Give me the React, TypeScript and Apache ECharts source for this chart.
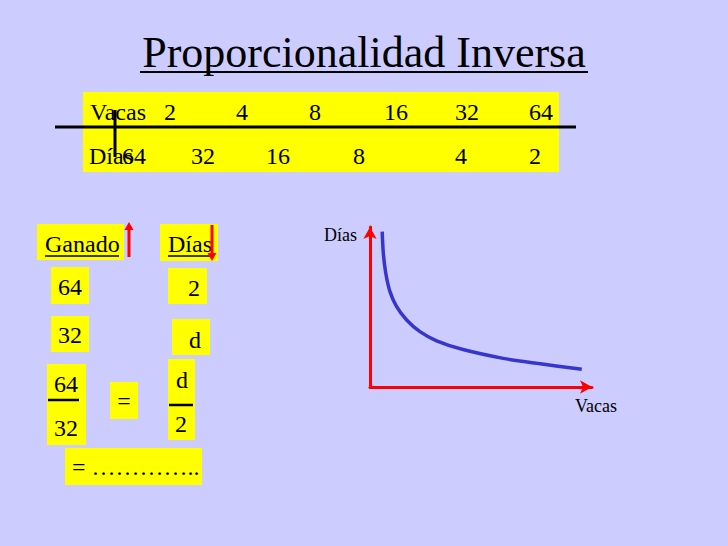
import React, { useEffect, useRef } from "react";
import * as echarts from "echarts";

// ---- data ----
const titleText = "Proporcionalidad Inversa";
const rowLabels = ["Vacas", "Días"];
const vacas = [2, 4, 8, 16, 32, 64];
const dias = [64, 32, 16, 8, 4, 2];
const headers = ["Ganado", "Días"];
const ganadoVals = ["64", "32"];
const diasVals = ["2", "d"];
const resultText = "= …………..";
const axisNames = ["Vacas", "Días"];
// illustrative inverse-proportion curve (axis units 0..100)
const curveX = [5.5, 6.0, 7.1, 9.0, 12.0, 16.5, 22.5, 30.0, 41.9, 60.0, 75.1, 95.4];
const curveY = [97.1, 83.6, 71.1, 59.6, 50.2, 41.9, 34.6, 28.9, 23.4, 17.9, 14.8, 11.1];

// ---- layout ----
const row1X = [164, 236, 309, 384, 455, 529];
const row2X = [122, 191, 266, 353, 455, 529];
const SERIF = "'Liberation Serif', 'Times New Roman', serif";
const YELLOW = "#ffff00";
const RED = "#ff0000";

function txt(x: number, y: number, s: string, fs: number, align = "left") {
  return {
    type: "text",
    x,
    y,
    style: {
      text: s,
      fontSize: fs,
      fontFamily: SERIF,
      fill: "#000",
      align,
      verticalAlign: "middle",
      textAlign: align,
      textVerticalAlign: "middle",
    },
  };
}
function rect(x: number, y: number, w: number, h: number, fill = YELLOW) {
  return { type: "rect", shape: { x, y, width: w, height: h }, style: { fill } };
}
function ln(x1: number, y1: number, x2: number, y2: number, stroke = "#000", w = 2) {
  return { type: "line", shape: { x1, y1, x2, y2 }, style: { stroke, lineWidth: w } };
}
function arrowUp(x: number, yBottom: number, yTip: number) {
  return [
    ln(x, yBottom, x, yTip + 7, RED, 3),
    { type: "polygon", shape: { points: [[x - 4.5, yTip + 8], [x + 4.5, yTip + 8], [x, yTip]] }, style: { fill: RED } },
  ];
}
function arrowDown(x: number, yTop: number, yTip: number) {
  return [
    ln(x, yTop, x, yTip - 7, RED, 3),
    { type: "polygon", shape: { points: [[x - 4.5, yTip - 8], [x + 4.5, yTip - 8], [x, yTip]] }, style: { fill: RED } },
  ];
}

export default function App() {
  const ref = useRef<HTMLDivElement>(null);
  useEffect(() => {
    if (!ref.current) return;
    const chart = echarts.init(ref.current, undefined, { renderer: "svg" });

    const graphics: any[] = [
      // title
      txt(364, 52, titleText, 44, "center"),
      ln(140, 72, 588, 72, "#000", 2),
      // table
      rect(83, 92, 476, 80),
      txt(90, 112, rowLabels[0], 24),
      txt(89, 156, rowLabels[1], 24),
      ...vacas.map((v, i) => txt(row1X[i], 112, String(v), 24)),
      ...dias.map((v, i) => txt(row2X[i], 156, String(v), 24)),
      ln(55, 127, 576, 127, "#000", 3),
      ln(115, 110, 115, 157, "#000", 3),
      // left boxes
      rect(37, 224, 87, 36),
      rect(160, 224, 58, 37),
      txt(45, 244, headers[0], 24),
      ln(45, 256, 119, 256, "#000", 1.5),
      txt(168, 244, headers[1], 24),
      ln(168, 256, 210, 256, "#000", 1.5),
      ...arrowUp(129, 257, 222),
      ...arrowDown(212, 225, 261),
      rect(51, 267, 38, 37),
      txt(58, 287, ganadoVals[0], 24),
      rect(168, 268, 39, 36),
      txt(188, 288, diasVals[0], 24),
      rect(51, 316, 38, 36),
      txt(58, 335, ganadoVals[1], 24),
      rect(172, 319, 38, 36),
      txt(189, 340, diasVals[1], 24),
      // fractions
      rect(47, 364, 39, 81),
      txt(66, 384, ganadoVals[0], 24, "center"),
      ln(48, 400, 79, 400, "#000", 2.5),
      txt(66, 428, ganadoVals[1], 24, "center"),
      rect(110, 382, 28, 37),
      txt(124, 401, "=", 24, "center"),
      rect(168, 359, 27, 81),
      txt(182, 380, diasVals[1], 24, "center"),
      ln(169, 405, 193, 405, "#000", 2.5),
      txt(181, 424, diasVals[0], 24, "center"),
      rect(65, 448, 137, 37),
      txt(72, 467, resultText, 24),
      // chart axis labels
      txt(324, 235, axisNames[1], 18),
      txt(575, 406, axisNames[0], 18),
    ];

    chart.setOption({
      animation: false,
      backgroundColor: "#ccccff",
      grid: { left: 370, top: 227, width: 222, height: 160 },
      xAxis: {
        type: "value",
        min: 0,
        max: 100,
        axisLine: { show: true, symbol: ["none", "arrow"], symbolSize: [10, 12], lineStyle: { color: RED, width: 3 } },
        axisTick: { show: false },
        axisLabel: { show: false },
        splitLine: { show: false },
      },
      yAxis: {
        type: "value",
        min: 0,
        max: 100,
        axisLine: { show: true, symbol: ["none", "arrow"], symbolSize: [10, 12], lineStyle: { color: RED, width: 3 } },
        axisTick: { show: false },
        axisLabel: { show: false },
        splitLine: { show: false },
      },
      series: [
        {
          type: "line",
          data: curveX.map((x, i) => [x, curveY[i]]),
          smooth: 0.3,
          showSymbol: false,
          clip: false,
          lineStyle: { color: "#3636cc", width: 3.5 },
        },
      ],
      graphic: { elements: graphics },
    });
    return () => chart.dispose();
  }, []);
  return (
    <div
      ref={ref}
      style={{ position: "fixed", left: 0, top: 0, width: 728, height: 546 }}
    />
  );
}
